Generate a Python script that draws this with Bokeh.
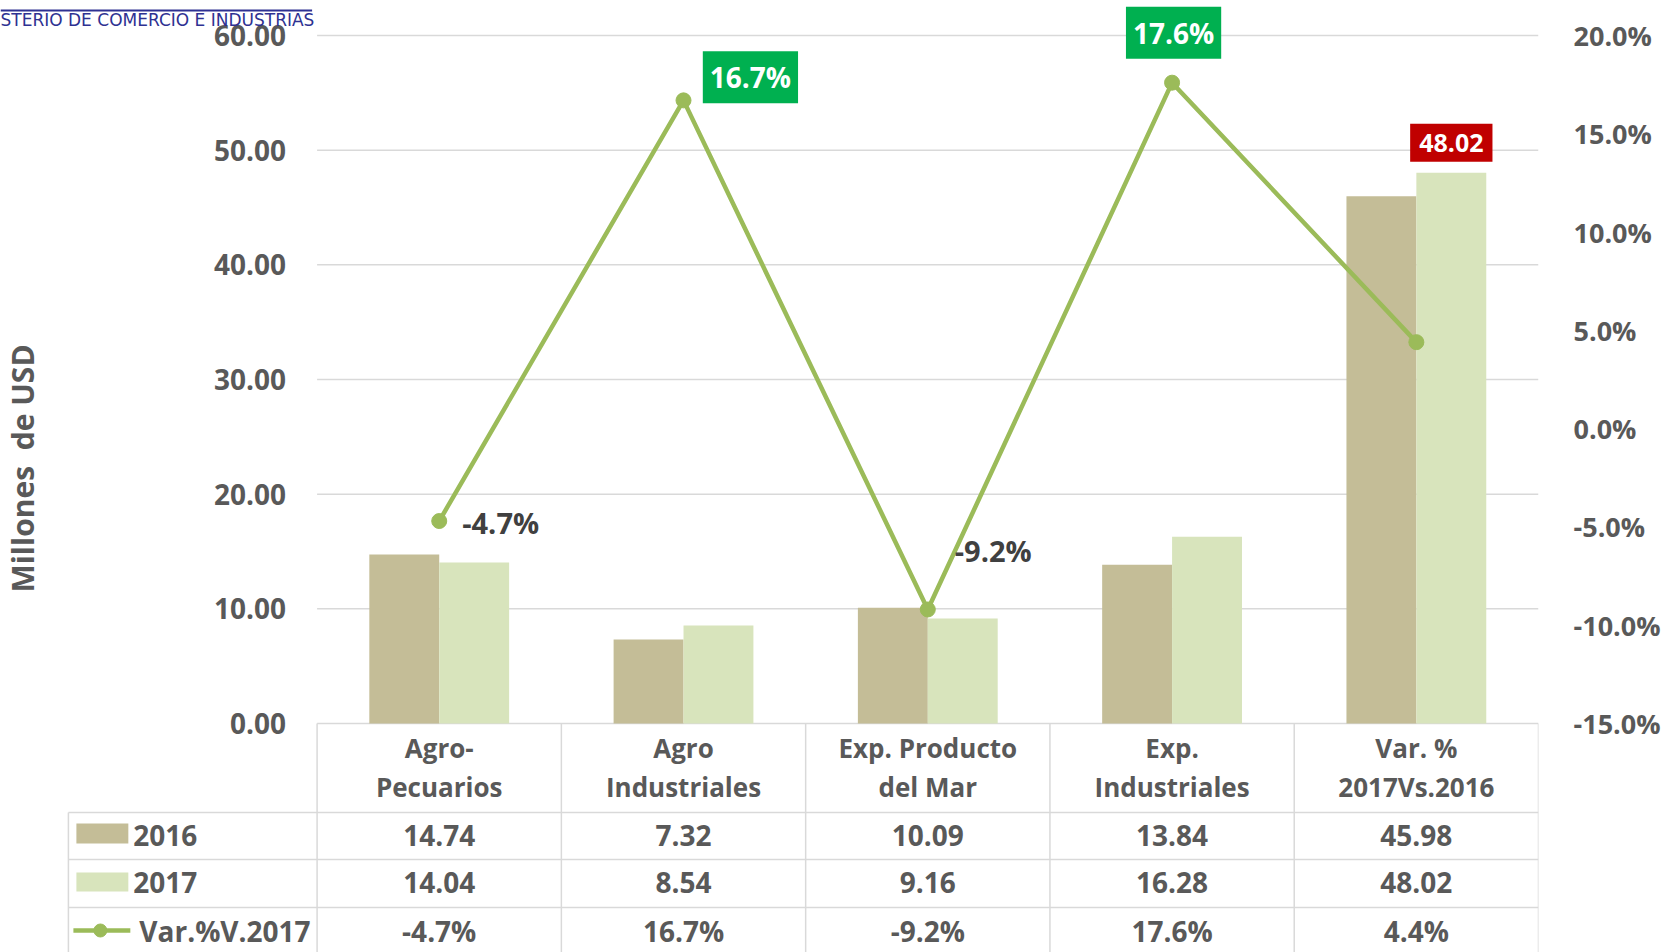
import numpy as np
from bokeh.plotting import figure
from bokeh.models import (Range1d, LinearAxis, FixedTicker, NumeralTickFormatter,
                          PrintfTickFormatter, Label)
from bokeh.core.properties import value
from bokeh.embed import file_html
from bokeh.resources import INLINE

# ---------------- data ----------------
categories = ["Agro-\nPecuarios", "Agro\nIndustriales", "Exp. Producto\ndel Mar",
              "Exp.\nIndustriales", "Var. %\n2017Vs.2016"]
v2016 = [14.74, 7.32, 10.09, 13.84, 45.98]
v2017 = [14.04, 8.54, 9.16, 16.28, 48.02]
var_pct = [-4.7, 16.7, -9.2, 17.6, 4.4]
series_names = ["2016", "2017", "Var.%V.2017"]
usd_ticks = [0, 10, 20, 30, 40, 50, 60]
pct_ticks = [-15, -10, -5, 0, 5, 10, 15, 20]
y_title = "Millones\u00a0\u00a0de USD"
logo_text = "STERIO DE COMERCIO E INDUSTRIAS"

# ---------------- geometry (page pixels) ----------------
W, H = 1663, 952
MARGIN = 0
PX_L, PX_R = 317, 1540          # plot area left / right
PY_TOP, PY_ZERO = 35, 723        # y of 60.00 / 0.00
PY_BOTTOM = MARGIN + H
ncat = len(categories)
col = (PX_R - PX_L) / ncat
k1 = (PY_ZERO - PY_TOP) / (usd_ticks[-1] - usd_ticks[0])
k2 = (PY_ZERO - PY_TOP) / (pct_ticks[-1] - pct_ticks[0])


def xd(px):
    return (px - PX_L) / col


def yd(py):
    return (PY_ZERO - py) / k1


def yp(py):
    return pct_ticks[0] + (PY_ZERO - py) / k2


C2016 = "#C4BD97"
C2017 = "#D8E4BC"
CLINE = "#9BBB59"
GRID = "#D9D9D9"
TXT = "#595959"
DARK = "#404040"
NAVY = "#2E3192"
FONT = "Open Sans"

p = figure(width=W, height=H, output_backend="svg", toolbar_location=None,
           x_range=Range1d(xd(MARGIN), xd(PX_R)),
           y_range=Range1d(yd(PY_BOTTOM), yd(MARGIN)),
           x_axis_location=None,
           min_border_left=0, min_border_top=0, min_border_bottom=0,
           min_border_right=W - (PX_R - MARGIN),
           outline_line_color=None, background_fill_color="white",
           border_fill_color="white")
p.extra_y_ranges = {"pct": Range1d(yp(PY_BOTTOM), yp(MARGIN))}
p.grid.visible = False

# left axis (fixed at plot-area left edge)
ya = p.yaxis[0]
ya.fixed_location = 0
ya.bounds = (yd(901), usd_ticks[-1])
ya.ticker = FixedTicker(ticks=usd_ticks)
ya.formatter = NumeralTickFormatter(format="0.00")
ya.axis_line_color = None
ya.major_tick_line_color = None
ya.minor_tick_line_color = None
ya.major_label_standoff = 25
ya.major_label_text_font = FONT
ya.major_label_text_font_style = "bold"
ya.major_label_text_font_size = "28px"
ya.major_label_text_color = TXT
ya.axis_label = y_title
ya.axis_label_text_font = FONT
ya.axis_label_text_font_style = "bold"
ya.axis_label_text_font_size = "30px"
ya.axis_label_text_color = TXT
ya.axis_label_standoff = 168

# right axis
ra = LinearAxis(y_range_name="pct", ticker=FixedTicker(ticks=pct_ticks),
                formatter=PrintfTickFormatter(format="%.1f%%"))
ra.axis_line_color = None
ra.major_tick_line_color = None
ra.minor_tick_line_color = None
ra.major_label_standoff = 29
ra.major_label_text_font = FONT
ra.major_label_text_font_style = "bold"
ra.major_label_text_font_size = "27px"
ra.major_label_text_color = TXT
p.add_layout(ra, "right")

# gridlines
p.segment(x0=0, x1=ncat, y0=usd_ticks, y1=usd_ticks, line_color=GRID, line_width=1.5)

# bars
centers = np.arange(ncat) + 0.5
bw = 70 / col
p.vbar(x=centers - bw / 2, top=v2016, bottom=0, width=bw, fill_color=C2016, line_color=None)
p.vbar(x=centers + bw / 2, top=v2017, bottom=0, width=bw, fill_color=C2017, line_color=None)

# line
p.line(centers, var_pct, y_range_name="pct", line_color=CLINE, line_width=4.5)
p.scatter(centers, var_pct, y_range_name="pct", size=15, fill_color=CLINE, line_color=CLINE)

# ---------------- data table ----------------
row_edges = [812, 859, 907]
p.segment(x0=xd(68), x1=ncat, y0=[yd(r) for r in row_edges], y1=[yd(r) for r in row_edges],
          line_color=GRID, line_width=1.5)
p.segment(x0=list(range(ncat + 1)), x1=list(range(ncat + 1)), y0=0, y1=yd(970),
          line_color=GRID, line_width=1.5)
p.segment(x0=xd(68), x1=xd(68), y0=yd(812), y1=yd(970), line_color=GRID, line_width=1.5)

p.text(x=centers, y=yd(767), text=categories, text_align="center", text_baseline="middle",
       text_font=value(FONT), text_font_style="bold", text_font_size="26px",
       text_color=TXT, text_line_height=1.1)
rows = [[f"{v:.2f}" for v in v2016], [f"{v:.2f}" for v in v2017], [f"{v:.1f}%" for v in var_pct]]
for txts, py in zip(rows, [835, 882, 930]):
    p.text(x=centers, y=yd(py), text=txts, text_align="center", text_baseline="middle",
           text_font=value(FONT), text_font_style="bold", text_font_size="28px", text_color=TXT)

# legend column
p.quad(left=xd(76), right=xd(128), top=yd(823), bottom=yd(843), fill_color=C2016, line_color=None)
p.quad(left=xd(76), right=xd(128), top=yd(872), bottom=yd(891), fill_color=C2017, line_color=None)
p.segment(x0=xd(73), x1=xd(130), y0=yd(930), y1=yd(930), line_color=CLINE, line_width=4.5)
p.scatter([xd(100)], [yd(930)], size=13, fill_color=CLINE, line_color=CLINE)
p.text(x=[xd(133), xd(133), xd(139)], y=[yd(835), yd(882), yd(930)], text=series_names,
       text_align="left", text_baseline="middle", text_font=value(FONT),
       text_font_style="bold", text_font_size="28px", text_color=TXT)

# ---------------- data labels ----------------
# (dx, dy in pixels, dy positive = up), style
lab_style = [
    dict(dx=23, dy=-1, align="left", boxed=False),
    dict(dx=67, dy=23, align="center", boxed=True),
    dict(dx=27, dy=59, align="left", boxed=False),
    dict(dx=1.5, dy=50, align="center", boxed=True),
    None,
]
for i, st in enumerate(lab_style):
    if st is None:
        continue
    kw = dict(x=centers[i] + st["dx"] / col, y=var_pct[i] + st["dy"] / k2, y_range_name="pct",
              text=f"{var_pct[i]:.1f}%", text_align=st["align"], text_baseline="middle",
              text_font=FONT, text_font_style="bold")
    if st["boxed"]:
        kw.update(text_color="white", background_fill_color="#00B050", padding=7,
                  text_font_size="28px")
    else:
        kw.update(text_color=DARK, text_font_size="29px")
    p.add_layout(Label(**kw))

red_kw = dict(x=centers[4] + bw / 2, y=v2017[4] + 30 / k1, text=f"{v2017[4]:.2f}",
              text_align="center", text_baseline="middle", text_font=FONT,
              text_font_style="bold", text_font_size="25px", text_color="white",
              background_fill_color="#C00000")
try:
    red_label = Label(padding=dict(left=9, right=9, top=10, bottom=10), **red_kw)
except Exception:
    red_label = Label(padding=8, **red_kw)
p.add_layout(red_label)

# clipped logo fragment at top-left
p.segment(x0=xd(MARGIN), x1=xd(312), y0=yd(10), y1=yd(10), line_color=NAVY, line_width=2)
p.add_layout(Label(x=xd(MARGIN), y=yd(19), text=logo_text, text_align="left",
                   text_baseline="middle", text_font="DejaVu Sans", text_font_size="17px",
                   text_color=NAVY))

open("out.html", "w").write(file_html(p, INLINE))
